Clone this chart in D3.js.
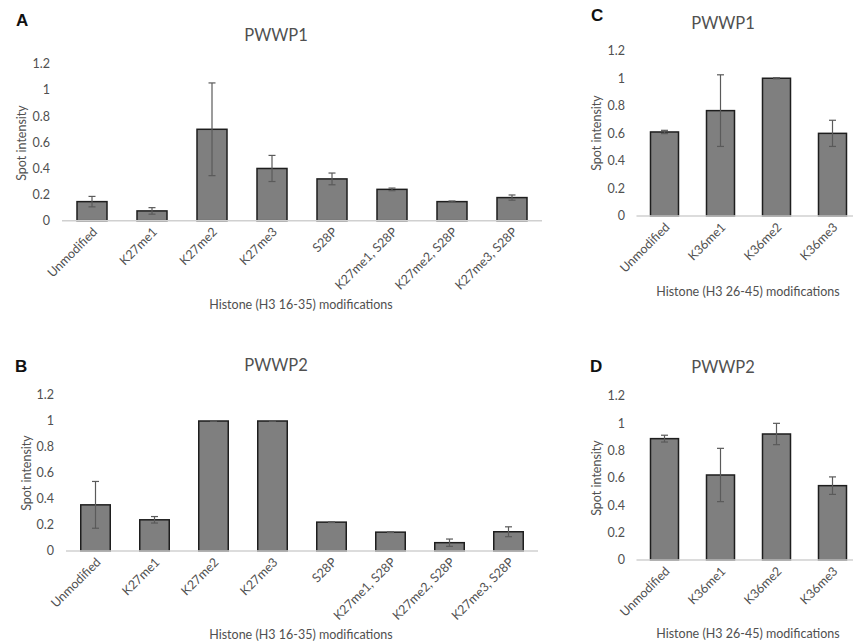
<!DOCTYPE html>
<html>
<head>
<meta charset="utf-8">
<script src="https://cdn.jsdelivr.net/npm/d3@7"></script>
<style>
  body { margin: 0; background: #fff; }
  svg { display: block; font-family: Lato, "Open Sans", sans-serif; }
</style>
</head>
<body>
<div id="container"></div>
<script>
// DATA
const cats1635 = ['Unmodified', 'K27me1', 'K27me2', 'K27me3', 'S28P', 'K27me1, S28P', 'K27me2, S28P', 'K27me3, S28P'];
const cats2645 = ['Unmodified', 'K36me1', 'K36me2', 'K36me3'];
const yTicks = [0, 0.2, 0.4, 0.6, 0.8, 1, 1.2];

const pwwp1Values1635 = [0.146, 0.075, 0.70, 0.40, 0.32, 0.24, 0.146, 0.177];
const pwwp1Errors1635 = [0.04, 0.025, 0.355, 0.10, 0.045, 0.01, 0.005, 0.02];
const pwwp2Values1635 = [0.355, 0.24, 1.0, 1.0, 0.222, 0.145, 0.064, 0.148];
const pwwp2Errors1635 = [0.18, 0.025, 0, 0, 0.003, 0.003, 0.028, 0.038];

const pwwp1Values2645 = [0.61, 0.765, 1.0, 0.60];
const pwwp1Errors2645 = [0.012, 0.26, 0.004, 0.095];
const pwwp2Values2645 = [0.888, 0.622, 0.922, 0.544];
const pwwp2Errors2645 = [0.025, 0.195, 0.078, 0.064];

// LAYOUT
const width = 853, height = 644;
const textColor = '#505050';

const panels = [
  { letter: 'A', title: 'PWWP1', xTitle: 'Histone (H3 16-35) modifications',
    cats: cats1635, values: pwwp1Values1635, errors: pwwp1Errors1635,
    x0: 62, x1: 542, y0: 220.7, y1: 64, tickX: 50,
    letterPos: [16, 26], titlePos: [276, 41], yTitlePos: [26, 143], xTitlePos: [301, 309] },
  { letter: 'B', title: 'PWWP2', xTitle: 'Histone (H3 16-35) modifications',
    cats: cats1635, values: pwwp2Values1635, errors: pwwp2Errors1635,
    x0: 66, x1: 538, y0: 551, y1: 395, tickX: 54,
    letterPos: [15, 372], titlePos: [276, 371], yTitlePos: [31, 473], xTitlePos: [301, 639] },
  { letter: 'C', title: 'PWWP1', xTitle: 'Histone (H3 26-45) modifications',
    cats: cats2645, values: pwwp1Values2645, errors: pwwp1Errors2645,
    x0: 636.5, x1: 860.5, y0: 216, y1: 50.7, tickX: 625,
    letterPos: [591, 21], titlePos: [723, 29], yTitlePos: [601, 133], xTitlePos: [748, 296] },
  { letter: 'D', title: 'PWWP2', xTitle: 'Histone (H3 26-45) modifications',
    cats: cats2645, values: pwwp2Values2645, errors: pwwp2Errors2645,
    x0: 636.5, x1: 860.5, y0: 560, y1: 396, tickX: 625,
    letterPos: [590, 372], titlePos: [723, 373], yTitlePos: [601, 478], xTitlePos: [748, 638] }
];

const svg = d3.select('#container')
  .append('svg')
  .attr('width', width)
  .attr('height', height)
  .attr('viewBox', [0, 0, width, height]);

function drawPanel(p) {
  const x = d3.scaleBand()
    .domain(p.cats)
    .range([p.x0, p.x1])
    .paddingInner(0.5)
    .paddingOuter(0.25);
  const y = d3.scaleLinear([0, 1.2], [p.y0, p.y1]);

  const g = svg.append('g');

  // y tick labels, no axis line
  g.append('g')
    .attr('fill', textColor)
    .attr('font-size', 12.5)
    .attr('text-anchor', 'end')
    .selectAll('text')
    .data(yTicks)
    .join('text')
      .attr('x', p.tickX)
      .attr('y', d => y(d))
      .attr('dy', '0.35em')
      .text(d => d);

  // bars
  g.append('g')
    .selectAll('rect')
    .data(p.values)
    .join('rect')
      .attr('x', (d, i) => x(p.cats[i]))
      .attr('y', d => y(d))
      .attr('width', x.bandwidth())
      .attr('height', d => y(0) - y(d))
      .attr('fill', '#7f7f7f')
      .attr('stroke', '#1e1e1e')
      .attr('stroke-width', 1.5);

  // baseline
  g.append('line')
    .attr('x1', p.x0).attr('x2', p.x1)
    .attr('y1', y(0)).attr('y2', y(0))
    .attr('stroke', '#d0d0d0')
    .attr('stroke-width', 1.5);

  // error bars
  const err = g.append('g')
    .attr('stroke', '#5a5a5a')
    .attr('stroke-width', 1.2)
    .selectAll('g')
    .data(p.values.map((v, i) => ({ v, e: p.errors[i], c: p.cats[i] })))
    .join('g')
      .attr('transform', d => `translate(${x(d.c) + x.bandwidth() / 2},0)`);
  err.append('line')
    .attr('y1', d => y(d.v - d.e)).attr('y2', d => y(d.v + d.e));
  err.append('line')
    .attr('x1', -3.5).attr('x2', 3.5)
    .attr('y1', d => y(d.v + d.e)).attr('y2', d => y(d.v + d.e));
  err.append('line')
    .attr('x1', -3.5).attr('x2', 3.5)
    .attr('y1', d => y(d.v - d.e)).attr('y2', d => y(d.v - d.e));

  // category labels
  g.append('g')
    .attr('fill', textColor)
    .attr('font-size', 12.5)
    .attr('text-anchor', 'end')
    .selectAll('text')
    .data(p.cats)
    .join('text')
      .attr('transform', d => `translate(${x(d) + x.bandwidth() / 2 + 6},${y(0) + 12}) rotate(-45)`)
      .text(d => d);

  // titles
  g.append('text')
    .attr('x', p.titlePos[0]).attr('y', p.titlePos[1])
    .attr('text-anchor', 'middle')
    .attr('fill', textColor)
    .attr('font-size', 16.5)
    .text(p.title);

  g.append('text')
    .attr('transform', `translate(${p.yTitlePos[0]},${p.yTitlePos[1]}) rotate(-90)`)
    .attr('text-anchor', 'middle')
    .attr('fill', textColor)
    .attr('font-size', 12.5)
    .text('Spot intensity');

  g.append('text')
    .attr('x', p.xTitlePos[0]).attr('y', p.xTitlePos[1])
    .attr('text-anchor', 'middle')
    .attr('fill', textColor)
    .attr('font-size', 12.5)
    .text(p.xTitle);

  g.append('text')
    .attr('x', p.letterPos[0]).attr('y', p.letterPos[1])
    .attr('fill', '#111')
    .attr('font-family', 'Arial, "Liberation Sans", sans-serif')
    .attr('font-weight', 'bold')
    .attr('font-size', 17)
    .text(p.letter);
}

panels.forEach(drawPanel);
</script>
</body>
</html>
